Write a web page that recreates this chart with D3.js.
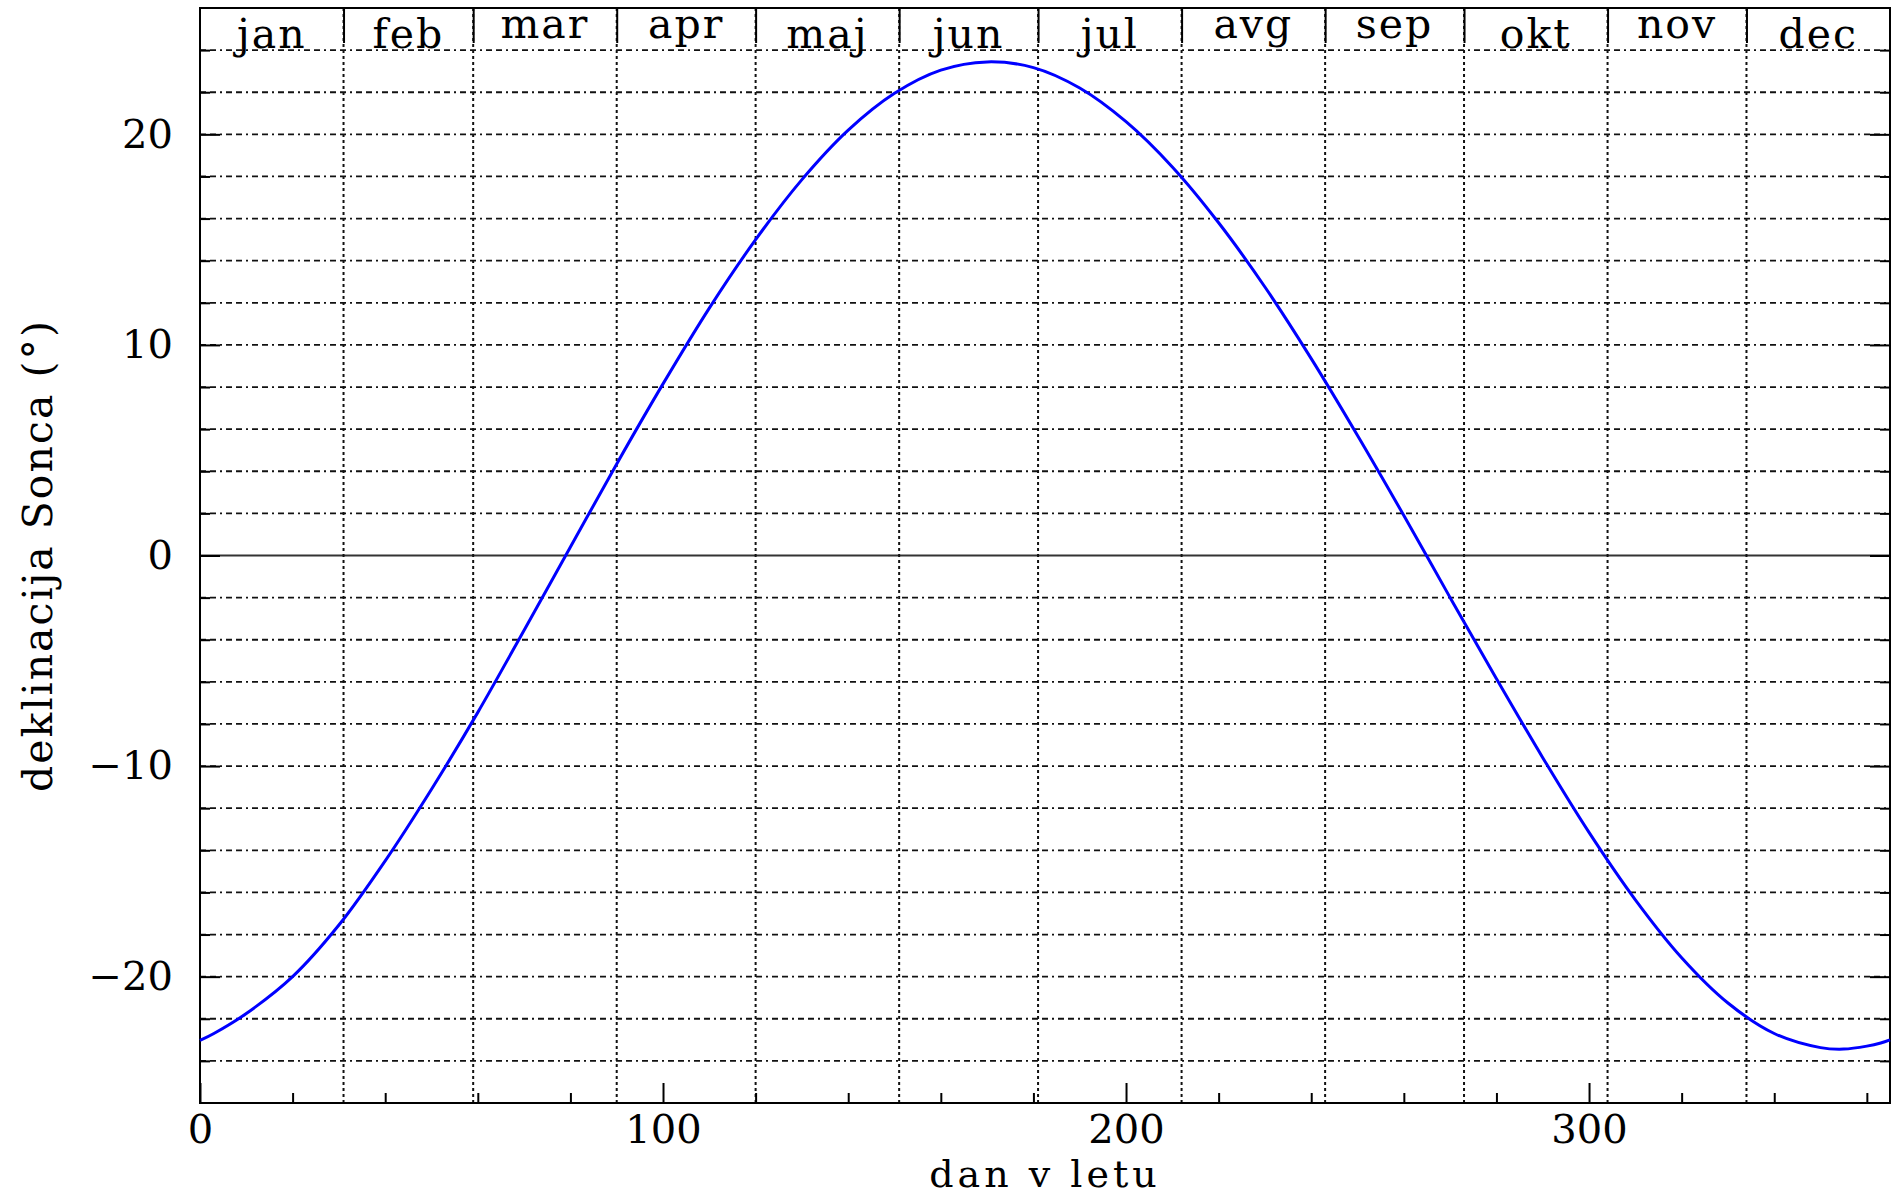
<!DOCTYPE html>
<html>
<head>
<meta charset="utf-8">
<script src="https://cdn.jsdelivr.net/npm/d3@7"></script>
<style>
  body { margin: 0; background: #fff; }
  svg text { font-family: 'DejaVu Serif', serif; fill: #000; }
</style>
</head>
<body>
<svg id="chart" width="1895" height="1198"></svg>
<script>
// day of year and sun declination (deg)
const days = [0, 3, 10, 20, 30, 40, 50, 60, 70, 80, 90, 100, 110, 120, 130, 140, 150, 160, 170,
  180, 190, 200, 210, 220, 230, 240, 250, 260, 270, 280, 290, 300, 310, 320, 330, 340, 350, 355, 360, 363, 365];
const declination = [-23.03, -22.7, -21.75, -20.0, -17.55, -14.5, -11.1, -7.45, -3.55, 0.4, 4.35, 8.15, 11.75,
  15.0, 17.85, 20.2, 21.95, 23.05, 23.44, 23.17, 22.2, 20.6, 18.45, 15.8, 12.75, 9.35, 5.7, 1.9, -2.0,
  -5.85, -9.6, -13.15, -16.35, -19.1, -21.25, -22.7, -23.37, -23.44, -23.3, -23.15, -23.0];

const monthNames = ['jan', 'feb', 'mar', 'apr', 'maj', 'jun', 'jul', 'avg', 'sep', 'okt', 'nov', 'dec'];
const monthStarts = [0, 31, 59, 90, 120, 151, 181, 212, 243, 273, 304, 334, 365];

const xLabels = [0, 100, 200, 300];
const yLabels = [-20, -10, 0, 10, 20];

const svg = d3.select('#chart');
const plotLeft = 200, plotRight = 1890, plotTop = 8, plotBottom = 1103;

const x = d3.scaleLinear()
  .domain([0, 365])
  .range([plotLeft, plotRight]);

const y = d3.scaleLinear()
  .domain([-26, 26])
  .range([plotBottom, plotTop]);

const yGrid = y.ticks(26).filter(d => d > -26 && d < 26);
const xMinor = d3.range(0, 366, 20);
const inner = monthStarts.slice(1, -1);

// horizontal grid, zero line solid
svg.append('g')
  .selectAll('line')
  .data(yGrid)
  .join('line')
    .attr('x1', plotLeft)
    .attr('x2', plotRight)
    .attr('y1', d => y(d))
    .attr('y2', d => y(d))
    .attr('stroke', d => d === 0 ? '#333' : '#111')
    .attr('stroke-width', d => d === 0 ? 2 : 1.8)
    .attr('stroke-dasharray', d => d === 0 ? null : '6,4,6,4,2,4');

// month boundaries
svg.append('g')
  .selectAll('line')
  .data(inner)
  .join('line')
    .attr('x1', d => x(d))
    .attr('x2', d => x(d))
    .attr('y1', plotTop)
    .attr('y2', plotBottom)
    .attr('stroke', '#111')
    .attr('stroke-width', 2)
    .attr('stroke-dasharray', '3,3');

// axes
const bottomAxis = svg.append('g')
  .attr('transform', `translate(0,${plotBottom})`)
  .call(d3.axisBottom(x)
    .tickValues(xMinor)
    .tickSizeInner(-10)
    .tickSizeOuter(0)
    .tickPadding(12)
    .tickFormat(d => xLabels.includes(d) ? d : ''));
bottomAxis.selectAll('.tick line')
  .filter(d => d % 100 === 0)
  .attr('y2', -20);

const leftAxis = svg.append('g')
  .attr('transform', `translate(${plotLeft},0)`)
  .call(d3.axisLeft(y)
    .tickValues(yGrid)
    .tickSizeInner(-10)
    .tickSizeOuter(0)
    .tickPadding(27)
    .tickFormat(d => yLabels.includes(d) ? d3.format('d')(d) : ''));
leftAxis.selectAll('.tick line')
  .filter(d => d % 10 === 0)
  .attr('x2', 20);

const rightAxis = svg.append('g')
  .attr('transform', `translate(${plotRight},0)`)
  .call(d3.axisRight(y)
    .tickValues(yGrid)
    .tickSizeInner(-10)
    .tickSizeOuter(0)
    .tickFormat(''));
rightAxis.selectAll('.tick line')
  .filter(d => d % 10 === 0)
  .attr('x2', -20);

svg.append('g')
  .attr('transform', `translate(0,${plotTop})`)
  .call(d3.axisTop(x)
    .tickValues(inner)
    .tickSizeInner(-35)
    .tickSizeOuter(0)
    .tickFormat(''));

svg.selectAll('.domain').remove();
svg.selectAll('.tick line')
  .attr('stroke', '#000')
  .attr('stroke-width', 2);
svg.selectAll('.tick text')
  .style('font-size', '40px');

// frame
svg.append('rect')
  .attr('x', plotLeft)
  .attr('y', plotTop)
  .attr('width', plotRight - plotLeft)
  .attr('height', plotBottom - plotTop)
  .attr('fill', 'none')
  .attr('stroke', '#000')
  .attr('stroke-width', 2);

// month names inside the top of the plot
svg.append('g')
  .selectAll('text')
  .data(monthNames)
  .join('text')
    .attr('x', (d, i) => x((monthStarts[i] + monthStarts[i + 1]) / 2))
    .attr('y', d => /[bdfhijklt]/.test(d) ? 48 : 38)
    .attr('text-anchor', 'middle')
    .style('font-size', '41px')
    .style('letter-spacing', '2px')
    .text(d => d);

// declination curve
const line = d3.line()
  .x((d, i) => x(days[i]))
  .y(d => y(d))
  .curve(d3.curveCatmullRom.alpha(0.5));

svg.append('path')
  .datum(declination)
  .attr('d', line)
  .attr('fill', 'none')
  .attr('stroke', '#0000ff')
  .attr('stroke-width', 3);

// axis titles
svg.append('text')
  .attr('x', (plotLeft + plotRight) / 2)
  .attr('y', 1187)
  .attr('text-anchor', 'middle')
  .style('font-size', '38px')
  .style('letter-spacing', '4px')
  .text('dan v letu');

svg.append('text')
  .attr('transform', `translate(52,${(plotTop + plotBottom) / 2}) rotate(-90)`)
  .attr('text-anchor', 'middle')
  .style('font-size', '41px')
  .style('letter-spacing', '2px')
  .text('deklinacija Sonca (°)');
</script>
</body>
</html>
